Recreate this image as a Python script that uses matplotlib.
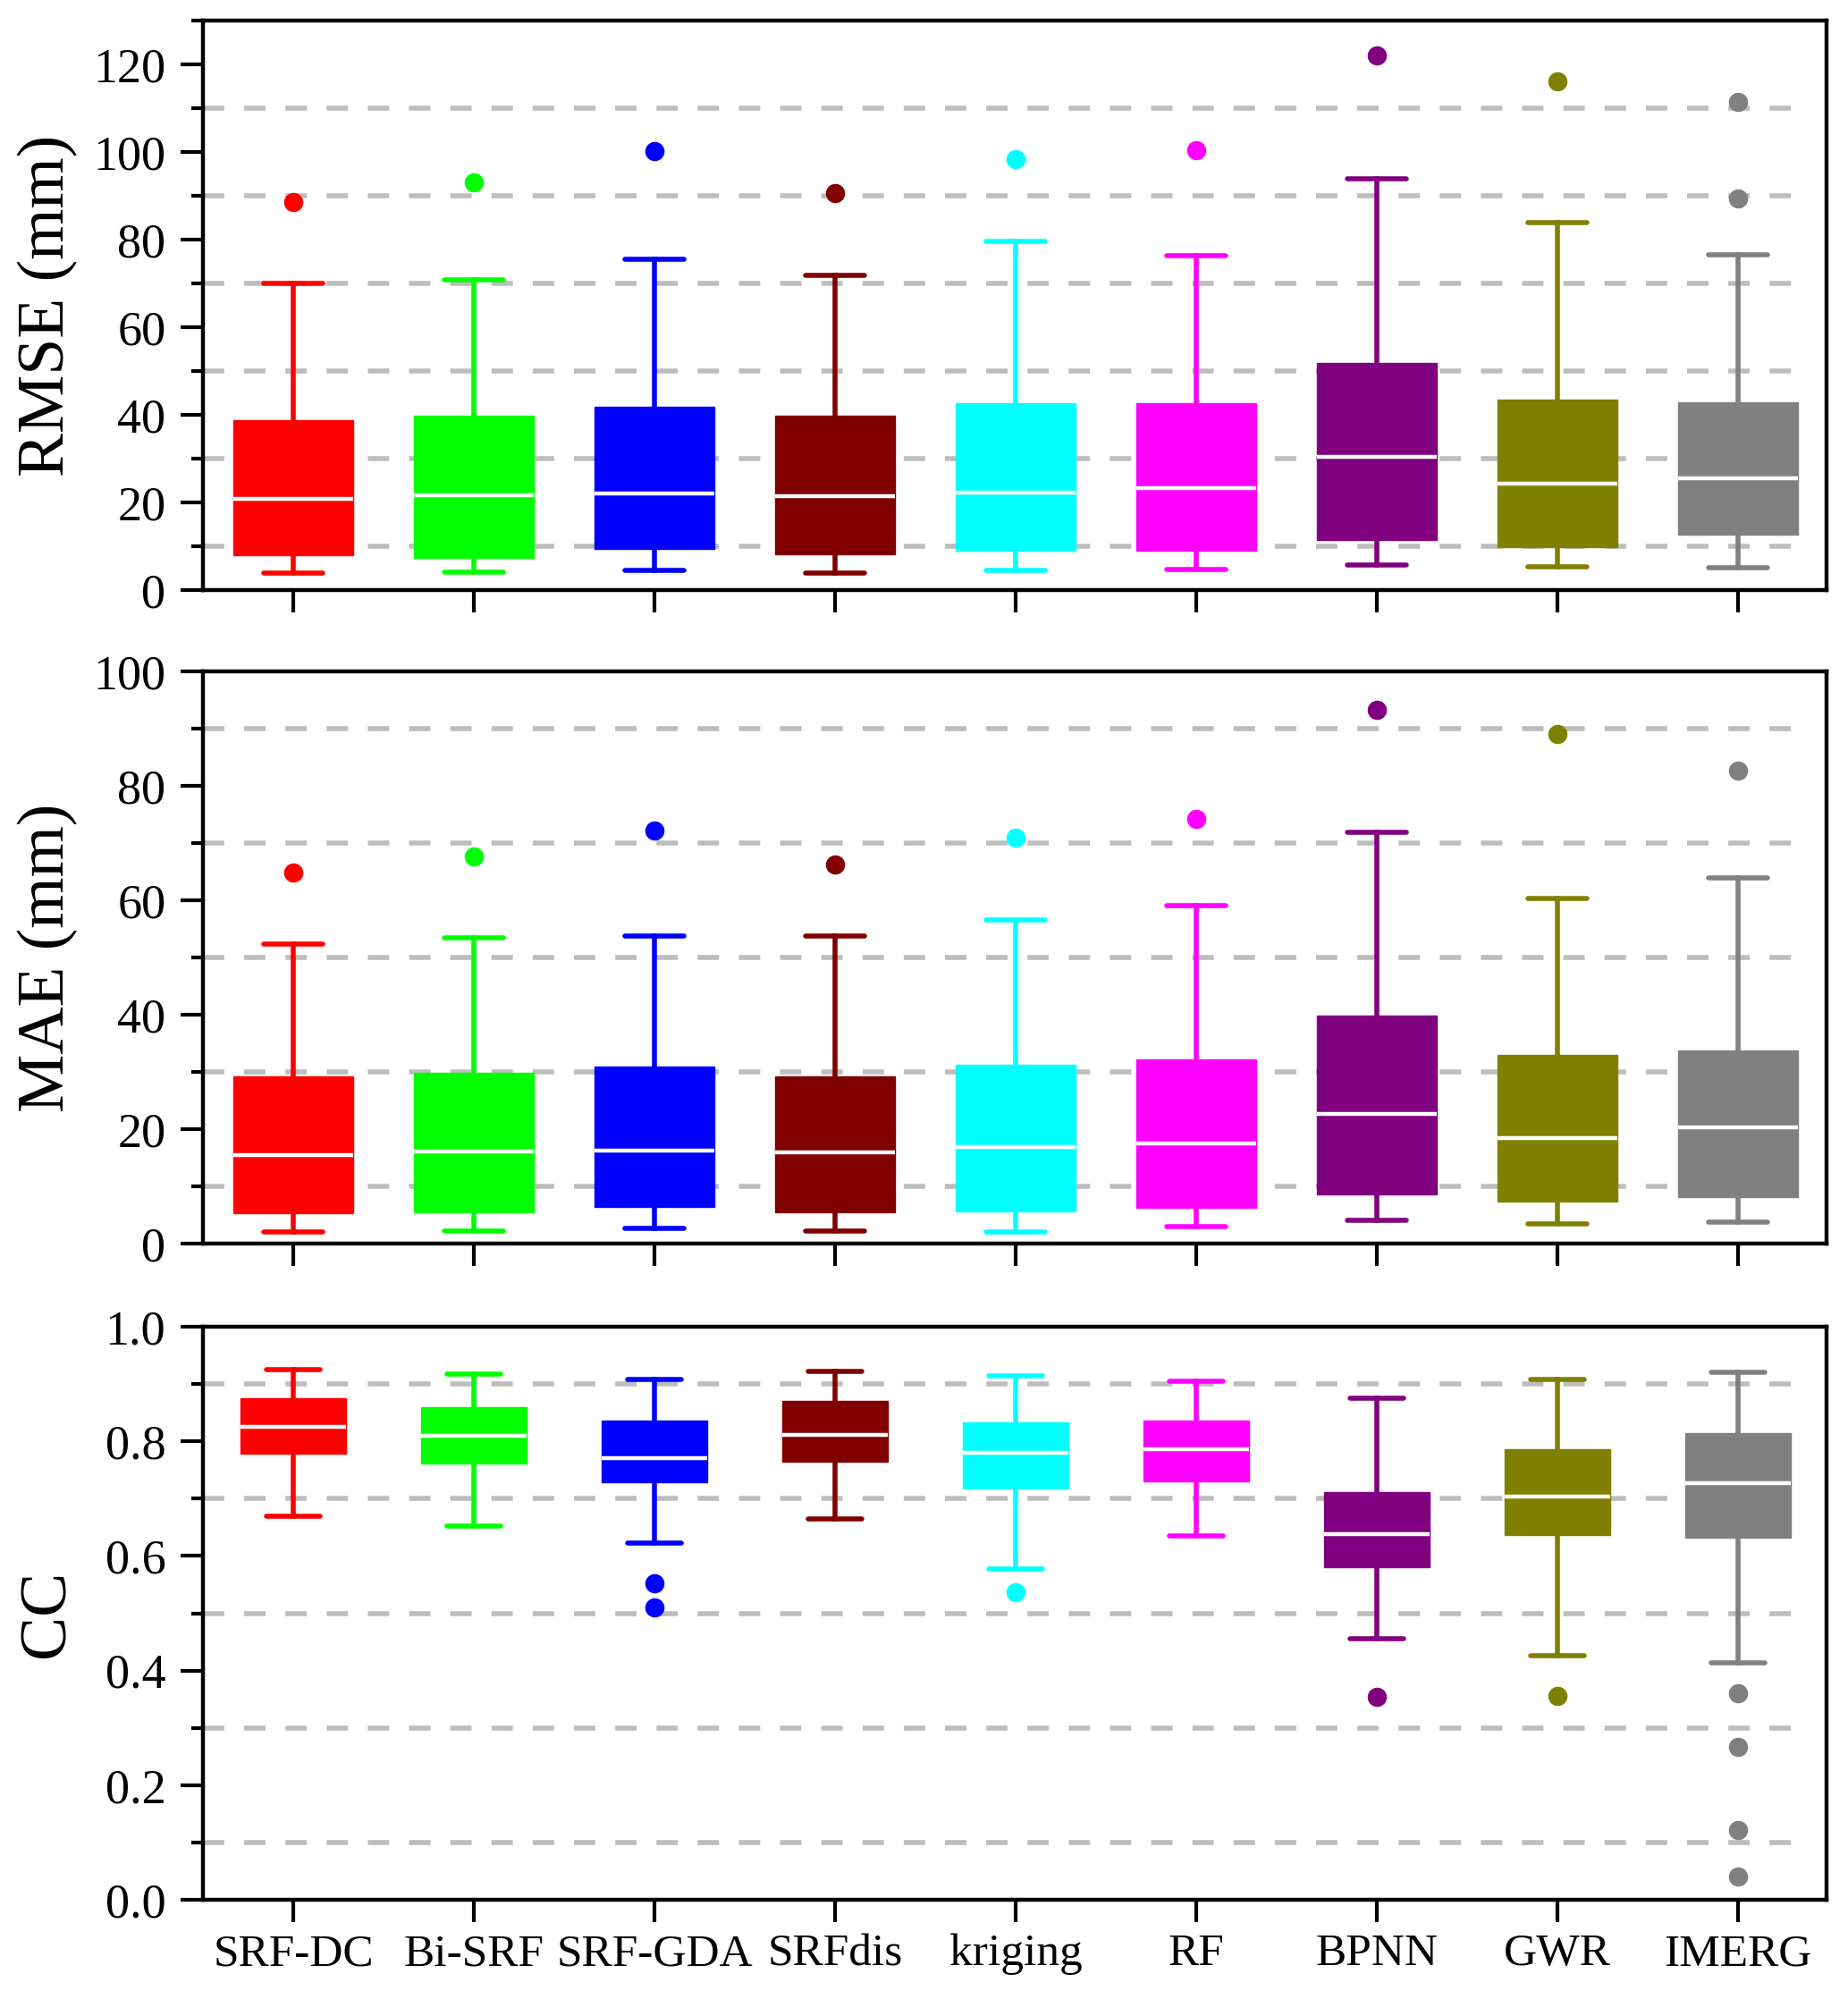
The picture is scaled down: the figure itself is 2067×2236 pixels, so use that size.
import matplotlib
matplotlib.use('Agg')
import matplotlib.pyplot as plt
from matplotlib.ticker import MultipleLocator, FormatStrFormatter

plt.rcParams['font.family'] = ['Liberation Serif', 'DejaVu Serif']

methods = ['SRF-DC', 'Bi-SRF', 'SRF-GDA', 'SRFdis', 'kriging', 'RF', 'BPNN', 'GWR', 'IMERG']
colors = ['#ff0000', '#00ff00', '#0000ff', '#800000', '#00ffff',
          '#ff00ff', '#800080', '#808000', '#808080']

# RMSE (mm)
rmse_low = [3.8, 4.1, 4.5, 3.9, 4.5, 4.7, 5.8, 5.4, 5.2]
rmse_q1 = [8.0, 7.4, 9.3, 8.2, 8.9, 8.9, 11.4, 9.8, 12.7]
rmse_med = [20.8, 21.6, 22.1, 21.4, 22.3, 23.2, 30.5, 24.2, 25.6]
rmse_q3 = [38.8, 39.8, 41.9, 39.9, 42.6, 42.6, 51.9, 43.5, 42.8]
rmse_high = [70.1, 70.8, 75.6, 71.8, 79.6, 76.4, 93.9, 83.9, 76.6]
rmse_out = [[88.5], [93.1], [100.2], [90.7], [98.4], [100.4], [122.1], [116.1], [111.4, 89.4]]

# MAE (mm)
mae_low = [2.0, 2.2, 2.6, 2.2, 2.1, 3.0, 4.0, 3.5, 3.8]
mae_q1 = [5.3, 5.4, 6.4, 5.5, 5.6, 6.3, 8.6, 7.3, 8.2]
mae_med = [15.4, 16.1, 16.2, 15.9, 16.9, 17.5, 22.6, 18.4, 20.3]
mae_q3 = [29.2, 29.9, 30.9, 29.3, 31.2, 32.2, 39.9, 32.9, 33.7]
mae_high = [52.4, 53.5, 53.7, 53.7, 56.6, 59.0, 71.9, 60.3, 63.9]
mae_out = [[64.8], [67.6], [72.2], [66.3], [71.0], [74.3], [93.3], [89.0], [82.7]]

# CC
cc_low = [0.670, 0.652, 0.623, 0.665, 0.577, 0.635, 0.456, 0.426, 0.413]
cc_q1 = [0.778, 0.761, 0.728, 0.764, 0.718, 0.730, 0.580, 0.636, 0.632]
cc_med = [0.826, 0.809, 0.771, 0.811, 0.780, 0.787, 0.638, 0.704, 0.727]
cc_q3 = [0.875, 0.859, 0.837, 0.870, 0.833, 0.836, 0.711, 0.786, 0.814]
cc_high = [0.925, 0.917, 0.908, 0.922, 0.914, 0.905, 0.876, 0.908, 0.920]
cc_out = [[], [], [0.552, 0.511], [], [0.537], [], [0.354], [0.356],
          [0.361, 0.267, 0.122, 0.041]]


def make_stats(low, q1, med, q3, high, out):
    stats = []
    for i in range(len(med)):
        stats.append({'whislo': low[i], 'q1': q1[i], 'med': med[i], 'q3': q3[i],
                      'whishi': high[i], 'fliers': out[i]})
    return stats


def draw_panel(ax, stats, ylabel, ymax, major, minor, grid_vals, boxw, capw, fmt):
    for g in grid_vals:
        ax.axhline(g, xmin=0, xmax=0.99, color='#bdbdbd', lw=4.0,
                   dashes=(4.3, 4.0), zorder=0)
    pos = list(range(1, len(stats) + 1))
    for i, s in enumerate(stats):
        c = colors[i]
        ax.bxp([s], positions=[pos[i]], widths=boxw, capwidths=capw,
               patch_artist=True, showfliers=True,
               boxprops=dict(facecolor=c, edgecolor=c, lw=1),
               medianprops=dict(color='white', lw=3.2, solid_capstyle='butt'),
               whiskerprops=dict(color=c, lw=4.0),
               capprops=dict(color=c, lw=4.0, solid_capstyle='round'),
               flierprops=dict(marker='o', markerfacecolor=c, markeredgecolor=c,
                               markersize=15.5, markeredgewidth=0))
    ax.set_xlim(0.5, len(stats) + 0.49)
    ax.set_ylim(0, ymax)
    ax.yaxis.set_major_locator(MultipleLocator(major))
    ax.yaxis.set_minor_locator(MultipleLocator(minor))
    ax.yaxis.set_major_formatter(FormatStrFormatter(fmt))
    ax.tick_params(axis='y', which='major', direction='out', length=18, width=3,
                   labelsize=39, pad=12)
    ax.tick_params(axis='y', which='minor', direction='out', length=9.5, width=3)
    ax.tick_params(axis='x', which='major', direction='out', length=18, width=3,
                   labelsize=37, pad=9)
    ax.tick_params(top=False, right=False)
    for sp in ax.spines.values():
        sp.set_linewidth(3.2)
    ax.set_ylabel(ylabel, fontsize=53)
    ax.yaxis.set_label_coords(-0.077, 0.5)


fig = plt.figure(figsize=(20.67, 22.36), dpi=100)
ax1 = fig.add_axes([0.1098, 0.7048, 0.8786, 0.2849])
ax2 = fig.add_axes([0.1098, 0.3779, 0.8786, 0.2862])
ax3 = fig.add_axes([0.1098, 0.0496, 0.8786, 0.2867])

draw_panel(ax1, make_stats(rmse_low, rmse_q1, rmse_med, rmse_q3, rmse_high, rmse_out),
           'RMSE (mm)', 130, 20, 10, [10, 30, 50, 70, 90, 110], 0.665, 0.33, '%d')
draw_panel(ax2, make_stats(mae_low, mae_q1, mae_med, mae_q3, mae_high, mae_out),
           'MAE (mm)', 100, 20, 10, [10, 30, 50, 70, 90], 0.665, 0.33, '%d')
draw_panel(ax3, make_stats(cc_low, cc_q1, cc_med, cc_q3, cc_high, cc_out),
           'CC', 1.0, 0.2, 0.1, [0.1, 0.3, 0.5, 0.7, 0.9], 0.58, 0.30, '%.1f')

for ax in (ax1, ax2, ax3):
    ax.set_xticks(range(1, len(methods) + 1))
ax1.set_xticklabels([])
ax2.set_xticklabels([])
ax3.set_xticklabels(methods)

fig.savefig('out.png', dpi=100)
